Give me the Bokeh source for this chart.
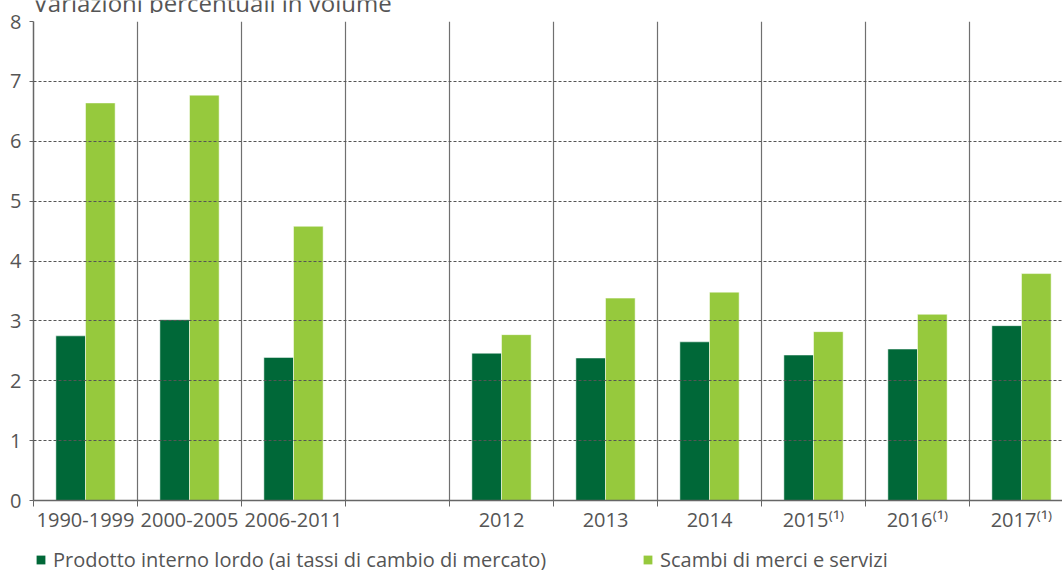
from bokeh.plotting import figure
from bokeh.layouts import column
from bokeh.models import (Range1d, FixedTicker, Legend, LegendItem, Label, ColumnDataSource)
from bokeh.embed import file_html
from bokeh.resources import INLINE

# ---- data ----
categories = ["1990-1999", "2000-2005", "2006-2011", "", "2012", "2013", "2014",
              "2015⁽¹⁾", "2016⁽¹⁾", "2017⁽¹⁾"]
pil = [2.75, 3.02, 2.39, None, 2.46, 2.38, 2.65, 2.43, 2.53, 2.92]
scambi = [6.64, 6.77, 4.58, None, 2.77, 3.38, 3.48, 2.82, 3.11, 3.79]
y_ticks = [0, 1, 2, 3, 4, 5, 6, 7, 8]
title_text = "Variazioni percentuali in volume"
series_names = ["Prodotto interno lordo (ai tassi di cambio di mercato)",
                "Scambi di merci e servizi"]

# ---- styling ----
DARK = "#006838"
LIGHT = "#96C93D"
TXT = "#555555"
FONT = "Open Sans"

W = 1062
H_TITLE, H_MAIN, H_LEG = 13, 527, 30
BL, BR, BT, BB = 33, 0, 8, 40
slot_px = 104.0
frame_w = W - BL - BR
bar_w = 0.285

centers = [i + 0.5 for i in range(len(categories))]
boundaries = [float(i) for i in range(len(categories) + 1)]

keep = [i for i, v in enumerate(pil) if v is not None]
src = ColumnDataSource(dict(
    xd=[centers[i] - bar_w / 2 for i in keep],
    xl=[centers[i] + bar_w / 2 for i in keep],
    pil=[pil[i] for i in keep],
    scambi=[scambi[i] for i in keep],
))


def blank_strip(h):
    f = figure(width=W, height=h, output_backend="svg", toolbar_location=None,
               x_range=Range1d(0, 1), y_range=Range1d(0, 1),
               x_axis_location=None, y_axis_location=None,
               min_border_left=0, min_border_right=0, min_border_top=0,
               min_border_bottom=0)
    f.grid.visible = False
    f.outline_line_color = None
    return f


# ---- title strip (the original crops the title at the top) ----
t = blank_strip(H_TITLE)
t.add_layout(Label(x=0, x_units="screen", y=11, y_units="screen", text=title_text,
                   text_font=FONT, text_font_size="24px", text_color=TXT,
                   text_baseline="alphabetic"))

# ---- main chart ----
p = figure(width=W, height=H_MAIN, output_backend="svg", toolbar_location=None,
           x_range=Range1d(0, frame_w / slot_px), y_range=Range1d(0, 8),
           min_border_left=BL, min_border_right=BR, min_border_top=BT,
           min_border_bottom=BB)
p.outline_line_color = None

p.vbar(x="xd", top="pil", width=bar_w, bottom=0, source=src,
       fill_color=DARK, line_color="white", line_alpha=0.5, line_width=1)
p.vbar(x="xl", top="scambi", width=bar_w, bottom=0, source=src,
       fill_color=LIGHT, line_color="white", line_alpha=0.5, line_width=1)

xa = p.xaxis[0]
xa.ticker = FixedTicker(ticks=centers, minor_ticks=boundaries)
xa.major_label_overrides = {c: lab for c, lab in zip(centers, categories)}
xa.major_tick_out = 0
xa.major_tick_in = 0
xa.minor_tick_out = 6
xa.minor_tick_in = 0
xa.minor_tick_line_color = "#666666"
xa.axis_line_color = "#666666"
xa.axis_line_width = 1.5
xa.major_label_text_font = FONT
xa.major_label_text_font_size = "20px"
xa.major_label_text_color = TXT
xa.major_label_standoff = -1

ya = p.yaxis[0]
ya.ticker = FixedTicker(ticks=y_ticks)
ya.major_tick_out = 4
ya.major_tick_in = 0
ya.major_tick_line_color = "#666666"
ya.minor_tick_line_color = None
ya.axis_line_color = "#666666"
ya.axis_line_width = 1.5
ya.major_label_text_font = FONT
ya.major_label_text_font_size = "20px"
ya.major_label_text_color = TXT
ya.major_label_standoff = 8

p.xgrid.ticker = FixedTicker(ticks=boundaries[1:])
p.xgrid.grid_line_color = "#707070"
p.xgrid.grid_line_width = 1.2
p.ygrid.ticker = FixedTicker(ticks=y_ticks[1:])
p.ygrid.grid_line_color = "#555555"
p.ygrid.grid_line_dash = "3 2"
p.ygrid.grid_line_width = 1
p.ygrid.level = "overlay"

# ---- legend strip ----
q = blank_strip(H_LEG)
dummy = ColumnDataSource(dict(x=[-5.0], top=[0.0]))
g1 = q.vbar(x="x", top="top", width=0.1, source=dummy, fill_color=DARK, line_color=None)
g2 = q.vbar(x="x", top="top", width=0.1, source=dummy, fill_color=LIGHT, line_color=None)
lg = Legend(items=[LegendItem(label=series_names[0], renderers=[g1]),
                   LegendItem(label=series_names[1], renderers=[g2])],
            location=(2, -3), orientation="horizontal",
            label_text_font=FONT, label_text_font_size="20px",
            label_text_color=TXT, label_standoff=7, label_width=589,
            glyph_width=11, glyph_height=11, padding=0, margin=0, spacing=0,
            border_line_color=None, background_fill_alpha=0,
            label_height=20)
q.add_layout(lg, "center")

layout = column(t, p, q, spacing=0)
open("out.html", "w").write(file_html(layout, INLINE))
